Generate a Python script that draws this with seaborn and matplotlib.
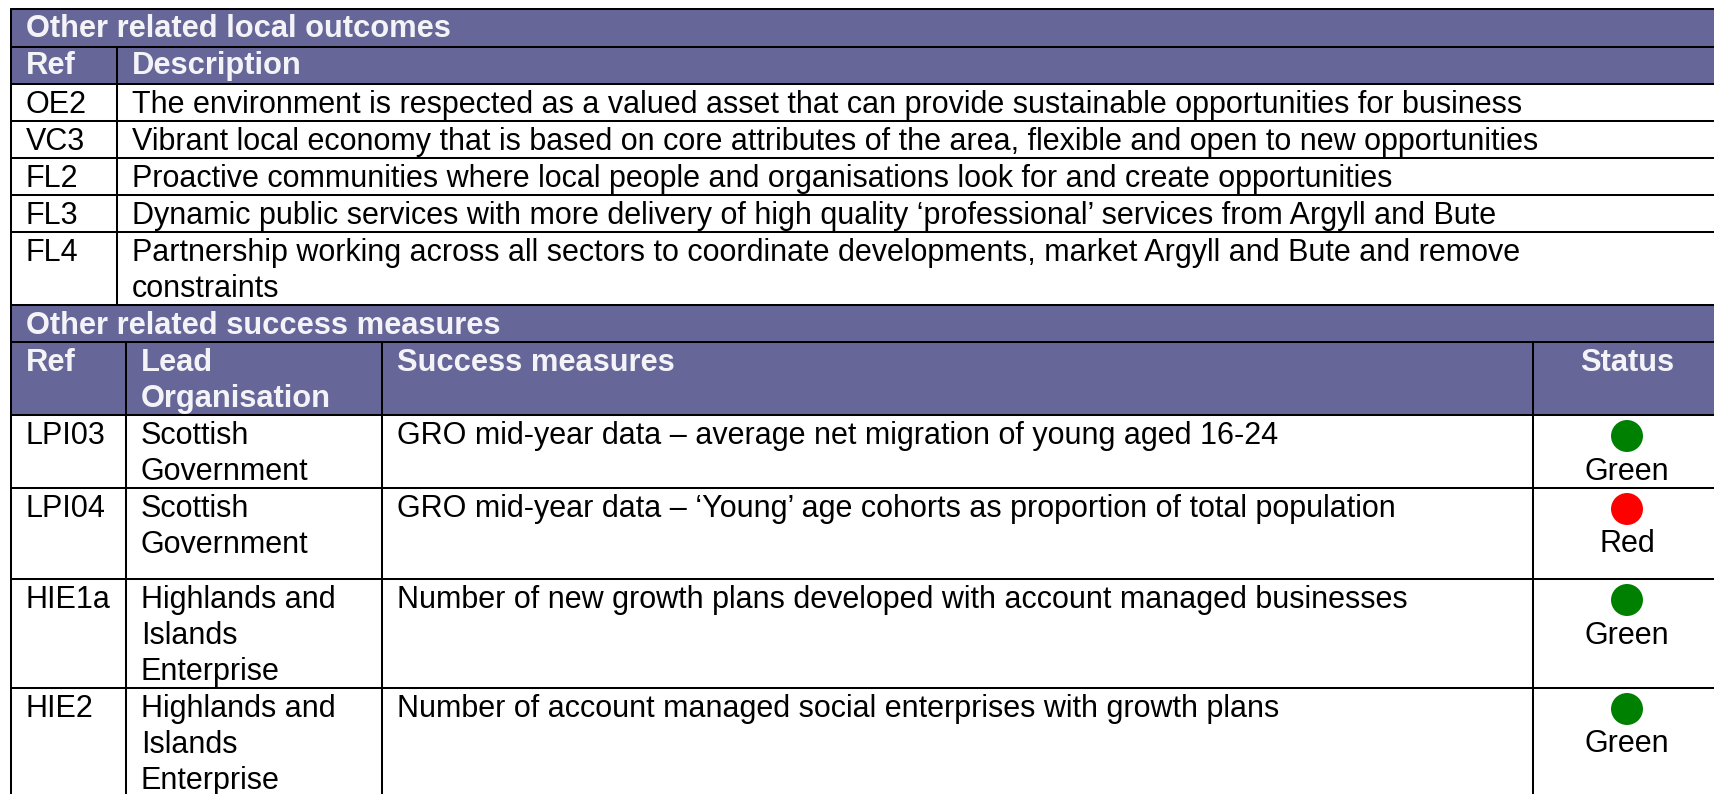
import pandas as pd
import matplotlib
matplotlib.use("Agg")
import matplotlib.pyplot as plt
import seaborn as sns

# table text
section_titles = ["Other related local outcomes", "Other related success measures"]
outcome_headers = ["Ref", "Description"]
outcome_refs = ["OE2", "VC3", "FL2", "FL3", "FL4"]
outcome_text = [
    ["The environment is respected as a valued asset that can provide sustainable opportunities for business"],
    ["Vibrant local economy that is based on core attributes of the area, flexible and open to new opportunities"],
    ["Proactive communities where local people and organisations look for and create opportunities"],
    ["Dynamic public services with more delivery of high quality \u2018professional\u2019 services from Argyll and Bute"],
    ["Partnership working across all sectors to coordinate developments, market Argyll and Bute and remove", "constraints"],
]
measure_headers = ["Ref", ["Lead", "Organisation"], "Success measures", "Status"]
measure_refs = ["LPI03", "LPI04", "HIE1a", "HIE2"]
measure_orgs = [
    ["Scottish", "Government"],
    ["Scottish", "Government"],
    ["Highlands and", "Islands", "Enterprise"],
    ["Highlands and", "Islands", "Enterprise"],
]
measure_text = [
    "GRO mid-year data \u2013 average net migration of young aged 16-24",
    "GRO mid-year data \u2013 \u2018Young\u2019 age cohorts as proportion of total population",
    "Number of new growth plans developed with account managed businesses",
    "Number of account managed social enterprises with growth plans",
]
measure_status = ["Green", "Red", "Green", "Green"]

# layout, in pixels of the output
W, H = 1715, 794
LEFT = 11
OUT_TOPS = [84, 120.7, 157.7, 194.7, 231.7]
MEAS_TOPS = [415, 488, 579, 688]
COL_OUT = 117
COLS_MEAS = [126, 382, 1533]
STATUS_X = 1627
LINE = 36
HEAD = "#666699"
FS = 22.0
FS_BOLD = 22.2

sns.set_theme(style="white")
plt.rcParams["font.family"] = ["Liberation Sans", "DejaVu Sans"]

fig = plt.figure(figsize=(W / 100, H / 100), dpi=100, facecolor="white")
ax = fig.add_axes([0, 0, 1, 1])


def put(x, y, s, head=False, **kw):
    ax.text(x, y, s, fontsize=FS_BOLD if head else FS, va="baseline",
            color="#f4f4f8" if head else "black",
            fontweight="bold" if head else "normal", zorder=5, **kw)


# header bands
for top, bottom in [(9, 84), (305, 415)]:
    ax.fill_between([LEFT, W], top, bottom, color=HEAD, lw=0, zorder=1)

# grid lines
for y in [9, 46.7] + OUT_TOPS + [305, 342] + MEAS_TOPS:
    ax.plot([LEFT, W], [y, y], color="black", lw=1.45, zorder=3)
ax.plot([LEFT, LEFT], [9, H], color="black", lw=1.45, zorder=3)
ax.plot([COL_OUT, COL_OUT], [46.7, 305], color="black", lw=1.45, zorder=3)
for x in COLS_MEAS:
    ax.plot([x, x], [342, H], color="black", lw=1.45, zorder=3)

# first block
put(26, 37.3, section_titles[0], head=True)
put(26, 74, outcome_headers[0], head=True)
put(132, 74, outcome_headers[1], head=True)
for top, ref, lines in zip(OUT_TOPS, outcome_refs, outcome_text):
    put(26, top + 29, ref)
    for i, s in enumerate(lines):
        put(132, top + 29 + i * LINE, s)

# second block
put(26, 333.5, section_titles[1], head=True)
put(26, 370.7, measure_headers[0], head=True)
for i, s in enumerate(measure_headers[1]):
    put(141, 370.7 + i * LINE, s, head=True)
put(397, 370.7, measure_headers[2], head=True)
put(STATUS_X, 370.7, measure_headers[3], head=True, ha="center")
for top, ref, org, txt, st in zip(MEAS_TOPS, measure_refs, measure_orgs, measure_text, measure_status):
    put(26, top + 29, ref)
    for i, s in enumerate(org):
        put(141, top + 29 + i * LINE, s)
    put(397, top + 29, txt)
    put(STATUS_X, top + 64.5, st, ha="center")

# status dots
dots = pd.DataFrame({
    "x": [STATUS_X] * len(measure_status),
    "y": [t + 21 for t in MEAS_TOPS],
    "status": measure_status,
})
sns.scatterplot(data=dots, x="x", y="y", hue="status", palette={"Green": "#008000", "Red": "#ff0000"},
                s=530, linewidth=0, legend=False, ax=ax, zorder=4)
ax.set_xlim(0, W)
ax.set_ylim(H, 0)
ax.axis("off")

fig.savefig("out.png", dpi=100)
